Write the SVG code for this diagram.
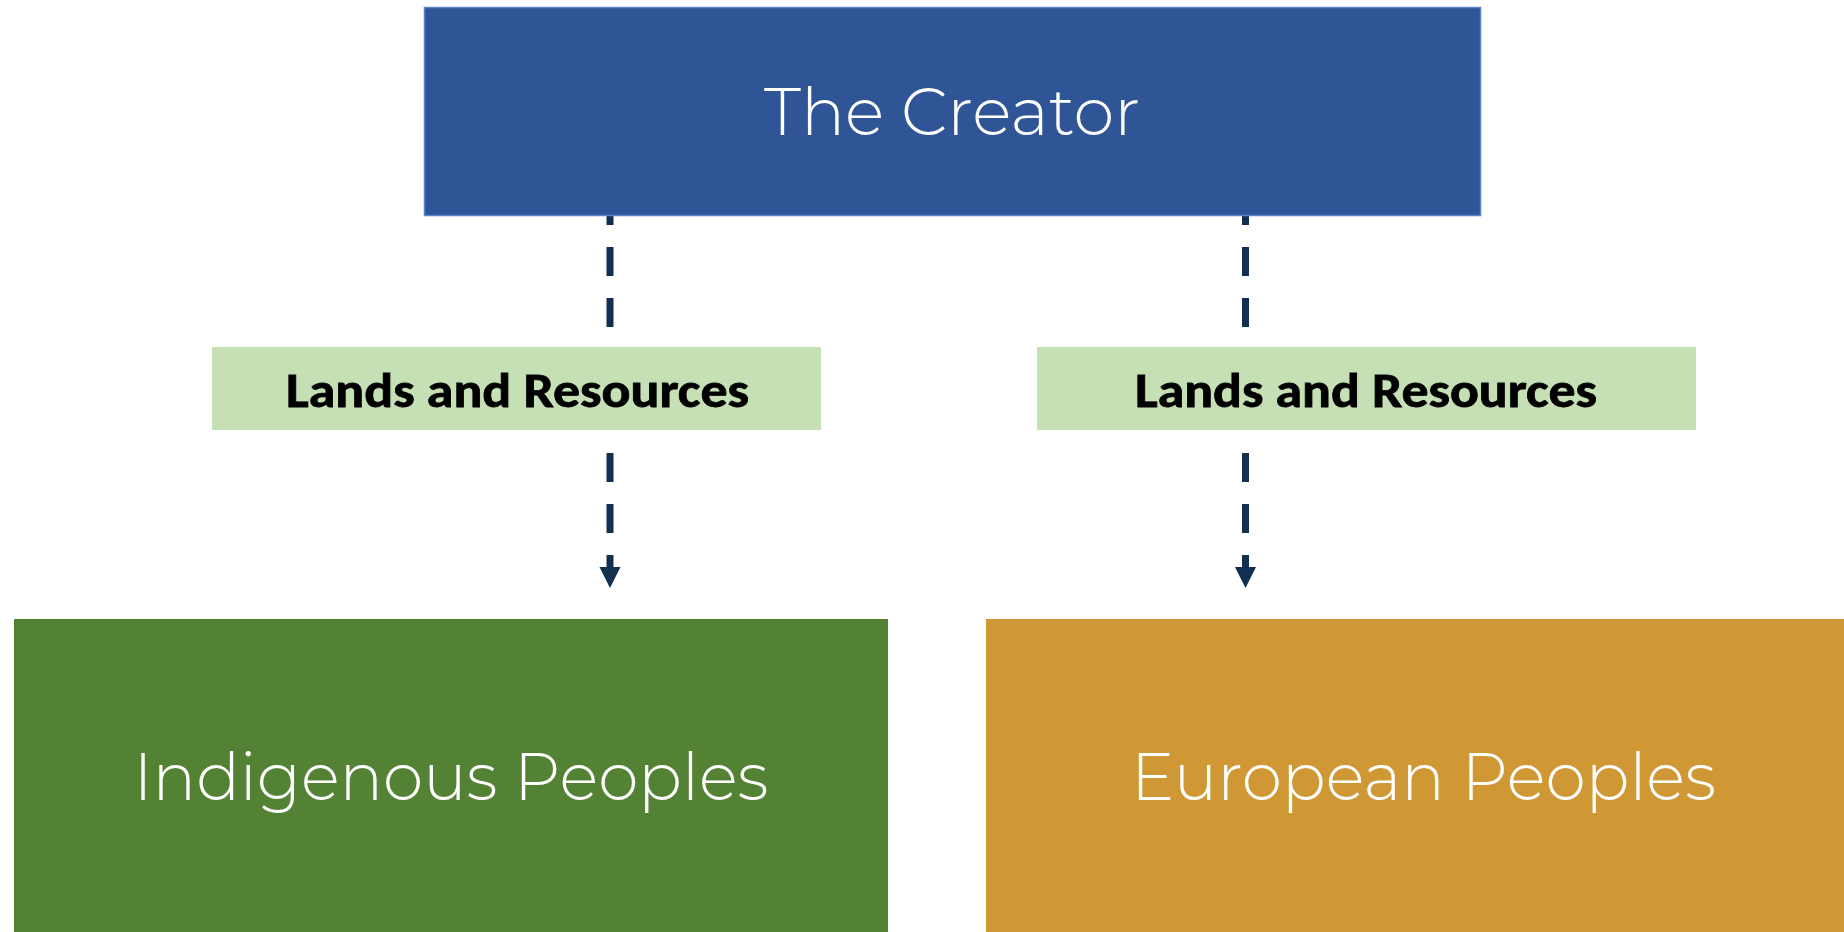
<svg xmlns="http://www.w3.org/2000/svg" width="1844" height="932" viewBox="0 0 1844 932">
<style>
.big{font-family:"Montserrat","Open Sans","Liberation Sans",sans-serif;font-weight:300;font-size:66px;fill:#fff;text-anchor:middle}
.lbl{font-family:"Carlito","Open Sans","Liberation Sans",sans-serif;font-weight:700;font-size:48px;fill:#000;text-anchor:middle;stroke:#000;stroke-width:0.8}
.res{fill:#C5E0B4}
.con{stroke:#11304F;stroke-width:7;fill:none;stroke-dasharray:29 22}
</style>
<defs>
<marker id="arr" markerUnits="userSpaceOnUse" markerWidth="22" markerHeight="22" refX="0" refY="11" orient="auto" viewBox="0 0 22 22">
<path d="M0,0.5 L21,11 L0,21.5 Z" fill="#11304F"/>
</marker>
</defs>
<rect width="1844" height="932" fill="#fff"/>
<g id="connectors">
<line class="con" x1="610" y1="216" x2="610" y2="328" stroke-dashoffset="20"/>
<line class="con" x1="1245.5" y1="216" x2="1245.5" y2="328" stroke-dashoffset="20"/>
<line class="con" x1="610" y1="453" x2="610" y2="567" marker-end="url(#arr)"/>
<line class="con" x1="1245.5" y1="453" x2="1245.5" y2="567" marker-end="url(#arr)"/>
</g>
<g id="creator">
<rect x="424.5" y="7.5" width="1056" height="208" fill="#2F5597" stroke="#5B84CC" stroke-width="1.5"/>
<text class="big" x="952" y="135" textLength="376" lengthAdjust="spacingAndGlyphs">The Creator</text>
</g>
<g id="lands-left">
<rect class="res" x="212" y="347" width="609" height="83"/>
<text class="lbl" x="517.5" y="407" textLength="463" lengthAdjust="spacingAndGlyphs">Lands and Resources</text>
</g>
<g id="lands-right">
<rect class="res" x="1037" y="347" width="659" height="83"/>
<text class="lbl" x="1366" y="407" textLength="462" lengthAdjust="spacingAndGlyphs">Lands and Resources</text>
</g>
<g id="indigenous">
<rect x="14" y="619" width="874" height="320" fill="#548235"/>
<text class="big" x="451" y="800" textLength="635" lengthAdjust="spacingAndGlyphs">Indigenous Peoples</text>
</g>
<g id="european">
<rect x="986" y="619" width="870" height="320" fill="#CF9834"/>
<text class="big" x="1423.5" y="800" textLength="585" lengthAdjust="spacingAndGlyphs">European Peoples</text>
</g>
</svg>
